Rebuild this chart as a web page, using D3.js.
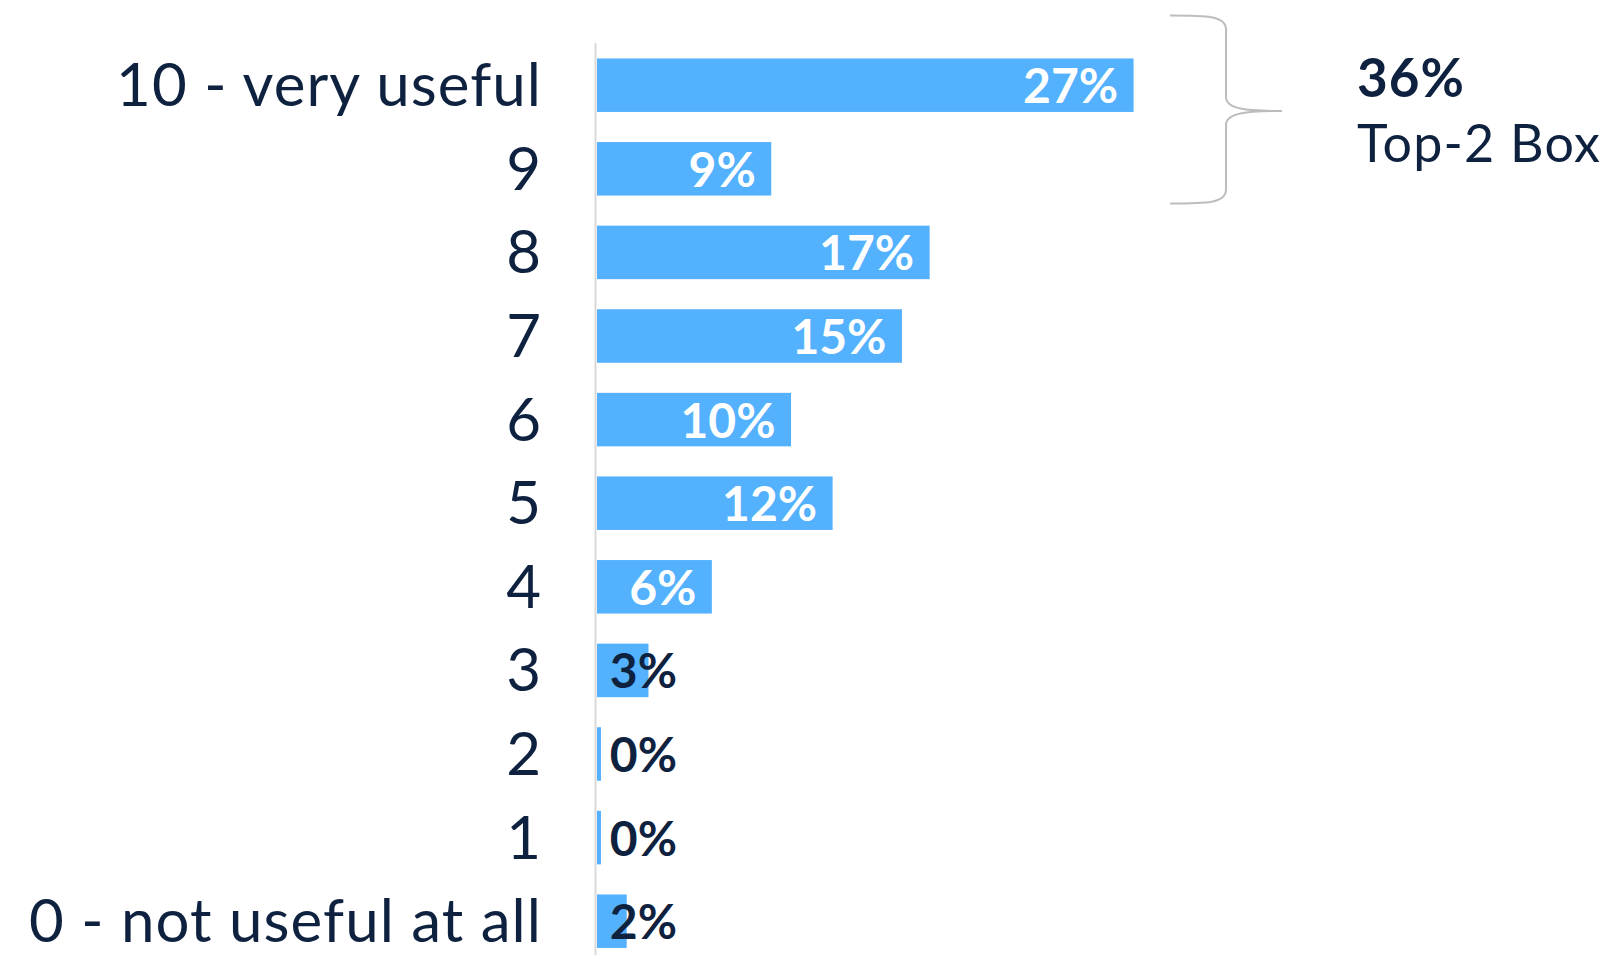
<!DOCTYPE html>
<html>
<head>
<meta charset="utf-8">
<script src="https://cdn.jsdelivr.net/npm/d3@7"></script>
<style>
  html, body { margin: 0; padding: 0; background: #ffffff; }
  svg { display: block; }
</style>
</head>
<body>
<svg id="chart" width="1609" height="955"></svg>
<script>
// Rating scale, top to bottom
const categories = ["10 - very useful", "9", "8", "7", "6", "5", "4", "3", "2", "1", "0 - not useful at all"];
// Share of respondents (%) per rating
const shares = [27.1, 8.8, 16.8, 15.4, 9.8, 11.9, 5.8, 2.6, 0.2, 0.2, 1.5];
// Ratings grouped into the Top-2 Box summary
const topBoxCategories = ["10 - very useful", "9"];
const topBoxLabel = "Top-2 Box";

const navy = "#0e2240";
const barBlue = "#53b1fe";
const fontFamily = "Lato, 'Open Sans', sans-serif";

const svg = d3.select("#chart");

const y = d3.scaleBand()
  .domain(categories)
  .range([43.4, 963])
  .paddingInner(0.36)
  .paddingOuter(0.18);

const x = d3.scaleLinear()
  .domain([0, 30])
  .range([597, 1191]);

const pct = v => Math.round(v) + "%";

// Baseline axis
svg.append("line")
  .attr("x1", 595.5).attr("x2", 595.5)
  .attr("y1", 43).attr("y2", 955)
  .attr("stroke", "#d9d9d9")
  .attr("stroke-width", 2);

const rows = categories.map((c, i) => ({ cat: c, v: shares[i] }));

// Bars
svg.append("g").selectAll("rect")
  .data(rows)
  .join("rect")
  .attr("x", x(0))
  .attr("y", d => y(d.cat))
  .attr("width", d => Math.max(0, x(d.v) - x(0)))
  .attr("height", y.bandwidth())
  .attr("fill", barBlue);

// Category labels
svg.append("g").selectAll("text")
  .data(rows)
  .join("text")
  .attr("x", 542)
  .attr("y", d => y(d.cat) + y.bandwidth() / 2 + 21)
  .attr("text-anchor", "end")
  .attr("font-family", fontFamily)
  .attr("font-size", 60)
  .attr("letter-spacing", 1.05)
  .attr("fill", navy)
  .text(d => d.cat);

// Value labels: inside the bar end in white, or at a minimum position in navy
const pad = 15.5;
const minEnd = 677;
svg.append("g").selectAll("text")
  .data(rows)
  .join("text")
  .attr("x", d => Math.max(x(d.v) - pad, minEnd))
  .attr("y", d => y(d.cat) + y.bandwidth() / 2 + 18)
  .attr("text-anchor", "end")
  .attr("font-family", fontFamily)
  .attr("font-weight", 700)
  .attr("font-size", 48)
  .attr("fill", d => (x(d.v) - pad > minEnd ? "#ffffff" : navy))
  .text(d => pct(d.v));

// Curly bracket around the Top-2 Box rows
const bTop = y(topBoxCategories[0]) - 43;
const bBot = y(topBoxCategories[topBoxCategories.length - 1]) + y.bandwidth() + 8;
const bMid = (bTop + bBot) / 2 + 1.5;
const bx0 = 1170, bx1 = 1226, bx2 = 1282;
const r = 10;
const bracket = d3.path();
bracket.moveTo(bx0, bTop);
bracket.bezierCurveTo(bx1 - 20, bTop, bx1, bTop, bx1, bTop + r + 4);
bracket.lineTo(bx1, bMid - r - 4);
bracket.bezierCurveTo(bx1, bMid - 2, bx1 + 20, bMid, bx2, bMid);
bracket.moveTo(bx2, bMid);
bracket.bezierCurveTo(bx1 + 20, bMid, bx1, bMid + 2, bx1, bMid + r + 4);
bracket.lineTo(bx1, bBot - r - 4);
bracket.bezierCurveTo(bx1, bBot, bx1 - 20, bBot, bx0, bBot);
svg.append("path")
  .attr("d", bracket.toString())
  .attr("fill", "none")
  .attr("stroke", "#bdbdbd")
  .attr("stroke-width", 2);

// Top-2 Box summary
const topBoxValue = d3.sum(rows.filter(d => topBoxCategories.includes(d.cat)), d => d.v);
svg.append("text")
  .attr("x", 1357)
  .attr("y", 97)
  .attr("font-family", fontFamily)
  .attr("font-weight", 700)
  .attr("font-size", 53)
  .attr("letter-spacing", 1)
  .attr("fill", navy)
  .text(pct(topBoxValue));
svg.append("text")
  .attr("x", 1357)
  .attr("y", 162)
  .attr("font-family", fontFamily)
  .attr("font-size", 52)
  .attr("letter-spacing", 1.2)
  .attr("fill", navy)
  .text(topBoxLabel);
</script>
</body>
</html>
